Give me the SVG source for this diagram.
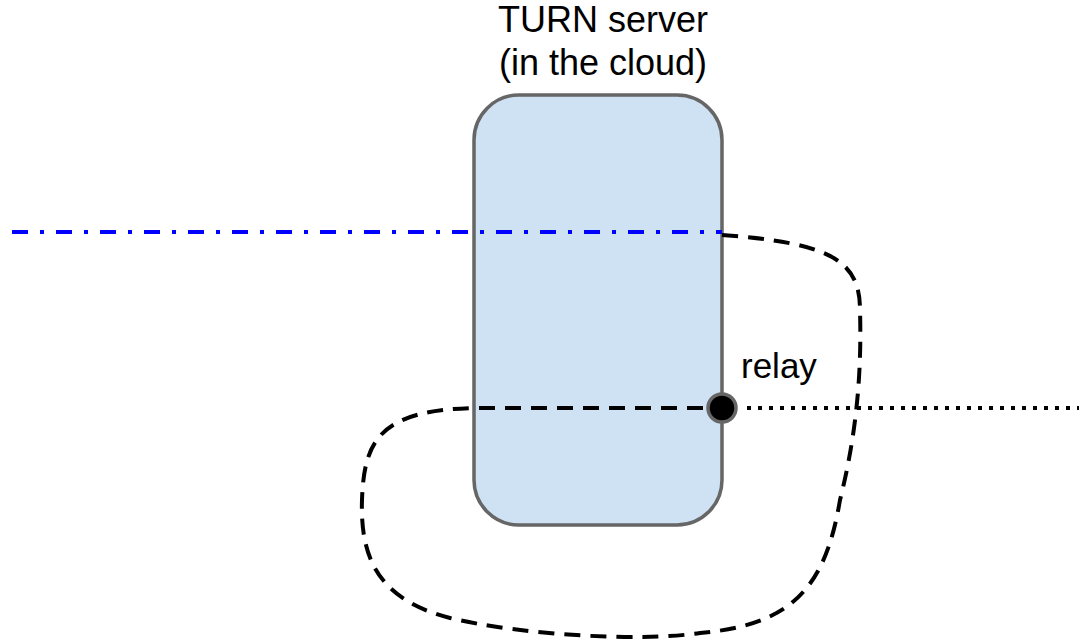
<svg xmlns="http://www.w3.org/2000/svg" width="1079" height="644" viewBox="0 0 1079 644">
  <style>
    .label { font-family: "Liberation Sans", Arial, sans-serif; font-size: 36px; fill: #000; }
    .server { fill: #cfe2f3; stroke: #666666; stroke-width: 3.5; }
    .relay-dot { fill: #000; stroke: #666666; stroke-width: 3.5; }
    .path-blue { fill: none; stroke: #0000ff; stroke-width: 4; stroke-dasharray: 16 12 4 12; }
    .path-loop { fill: none; stroke: #000; stroke-width: 4; stroke-dasharray: 16 10; }
    .path-dotted { fill: none; stroke: #000; stroke-width: 4; stroke-dasharray: 4 7; }
  </style>
  <rect width="1079" height="644" fill="#ffffff"/>

  <g id="turn-server">
    <rect class="server" x="474" y="95" width="248" height="430" rx="45" ry="45"/>
    <text class="label" x="603" y="32" text-anchor="middle">TURN server</text>
    <text class="label" x="603" y="75" text-anchor="middle">(in the cloud)</text>
  </g>

  <g id="connectors">
    <line class="path-blue" x1="12" y1="232" x2="722" y2="232"/>
    <path class="path-loop" d="M722,235 C830,243 860,260 860,310 C862,380 855,440 840,500 C825,590 790,625 700,633 C640,642 520,635 450,618 C380,600 360,560 362,500 C364,440 380,410 475,408 L722,408"/>
    <line class="path-dotted" x1="747" y1="408" x2="1079" y2="408"/>
  </g>

  <g id="relay">
    <circle class="relay-dot" cx="722" cy="408" r="14"/>
    <text class="label" x="741" y="378" style="font-size:35px">relay</text>
  </g>
</svg>
